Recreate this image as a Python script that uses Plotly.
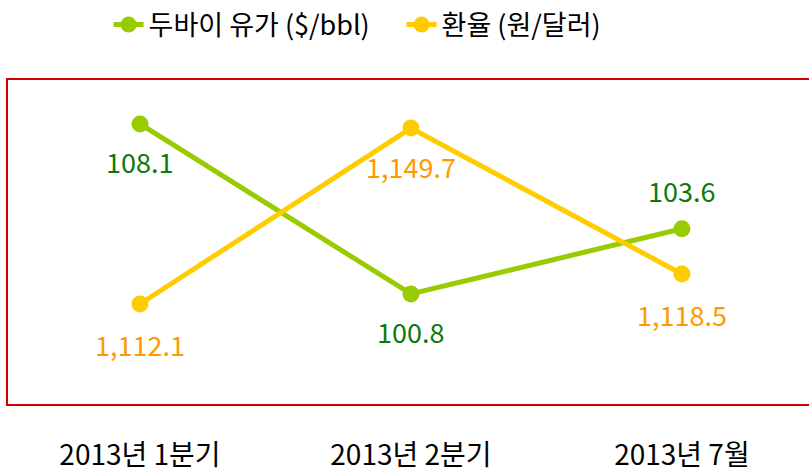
import plotly.graph_objects as go

categories = ["2013년 1분기", "2013년 2분기", "2013년 7월"]
oil_values = [108.1, 100.8, 103.6]
fx_values = [1112.1, 1149.7, 1118.5]
oil_labels = ["108.1", "100.8", "103.6"]
fx_labels = ["1,112.1", "1,149.7", "1,118.5"]
oil_label_shift = [-38, -38, 38]
fx_label_shift = [-40, -38, -40]

FONT = "Noto Sans CJK KR, Noto Sans, sans-serif"
xpos = list(range(len(categories)))

fig = go.Figure()
fig.add_trace(go.Scatter(
    x=xpos, y=oil_values, name="두바이 유가 ($/bbl)", mode="lines+markers",
    line=dict(color="#99CC00", width=5), marker=dict(color="#99CC00", size=17),
    yaxis="y",
))
fig.add_trace(go.Scatter(
    x=xpos, y=fx_values, name="환율 (원/달러)", mode="lines+markers",
    line=dict(color="#FFCC00", width=5), marker=dict(color="#FFCC00", size=17),
    yaxis="y2",
))

annotations = []
for xi, v, t, s in zip(xpos, oil_values, oil_labels, oil_label_shift):
    annotations.append(dict(x=xi, y=v, xref="x", yref="y", text=t, showarrow=False,
                            yshift=s, font=dict(color="#0B7A0B", size=27, family=FONT)))
for xi, v, t, s in zip(xpos, fx_values, fx_labels, fx_label_shift):
    annotations.append(dict(x=xi, y=v, xref="x", yref="y2", text=t, showarrow=False,
                            yshift=s, font=dict(color="#FF9900", size=27, family=FONT)))

fig.update_layout(
    width=809, height=475,
    margin=dict(l=7, r=0, t=79, b=70, autoexpand=False),
    paper_bgcolor="white", plot_bgcolor="white",
    font=dict(family=FONT, color="black"),
    showlegend=True,
    legend=dict(orientation="h", x=0.492, xanchor="center", y=1 - 25 / 475, yanchor="middle",
                yref="container", font=dict(size=27, family=FONT, color="black"),
                traceorder="normal", entrywidth=248, entrywidthmode="pixels",
                bgcolor="rgba(0,0,0,0)"),
    xaxis=dict(tickmode="array", tickvals=xpos, ticktext=categories,
               range=[-0.4908, 2.469], showgrid=False, zeroline=False,
               showline=False, ticks="", tickfont=dict(size=28, family=FONT),
               ticklabelstandoff=31, automargin=False),
    yaxis=dict(range=[96.03, 110.03], visible=False, showgrid=False, automargin=False),
    yaxis2=dict(range=[1090.52, 1160.18], visible=False, showgrid=False,
                overlaying="y", side="right", automargin=False),
    annotations=annotations,
    shapes=[dict(type="rect", xref="paper", yref="paper", x0=0, x1=1.05, y0=0, y1=1,
                 line=dict(color="#D40000", width=2), layer="below")],
)

fig.write_html("out.html", config={"displayModeBar": False},
               post_script="document.body.style.margin='0px';")
